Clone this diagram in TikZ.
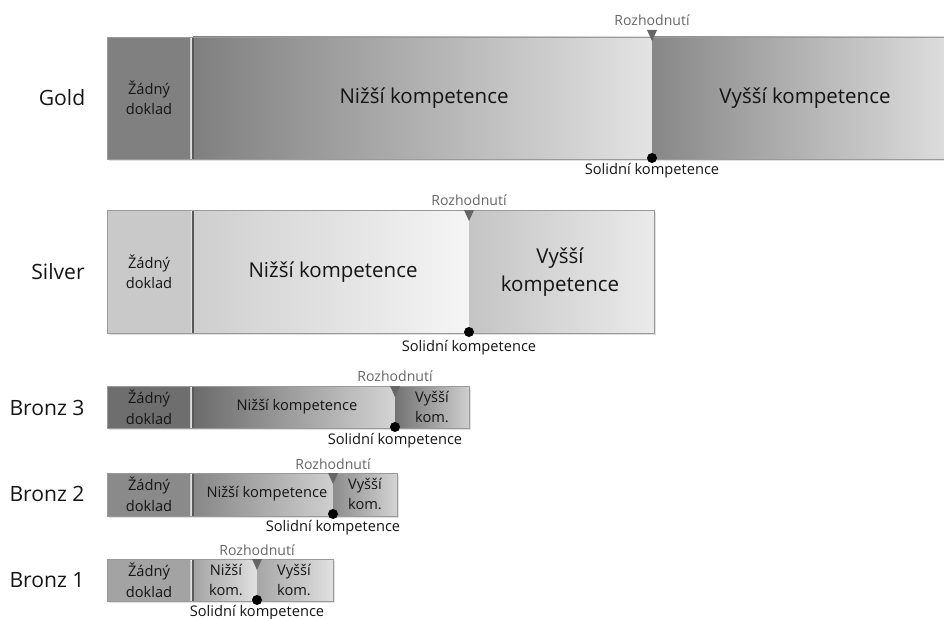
\documentclass[tikz,border=0pt]{standalone}
\usepackage{fontspec}
\setmainfont{Open Sans}
\usetikzlibrary{calc}

\definecolor{inkgrey}{HTML}{151515}
\definecolor{decgrey}{HTML}{666666}
\definecolor{framegrey}{HTML}{9A9A9A}

\begin{document}
\begin{tikzpicture}[x=0.03cm, y=-0.03cm,
	level/.style={font=\fontsize{18}{20}\selectfont, text=inkgrey},
	big/.style={font=\fontsize{17.5}{23.5}\selectfont, text=inkgrey, align=center},
	small/.style={font=\fontsize{12.5}{17.5}\selectfont, text=inkgrey, align=center},
	decision/.style={font=\fontsize{12}{14}\selectfont, text=decgrey},
	solidlbl/.style={font=\fontsize{12.5}{14}\selectfont, text=inkgrey},
	frame/.style={draw=framegrey, line width=0.7pt},
	shadowbox/.style={fill=black!12},
	seplight/.style={draw=black!20, line width=1.5pt},
	sepdark/.style={draw=black!65, line width=1.2pt},
	tipmark/.style={fill=decgrey},
	]
	\useasboundingbox (0,0) rectangle (944,619);

	% Gold
	\fill[shadowbox] (109,39) rectangle (950,161);
	\fill[black!50] (107,37) rectangle (191,159);
	\shade[left color=black!50, right color=black!11] (193,37) rectangle (652,159);
	\shade[left color=black!47, right color=black!13] (652,37) rectangle (950,159);
	\draw[seplight] (190.5,37) -- (190.5,159);
	\draw[sepdark] (193,37) -- (193,159);
	\draw[frame] (107,37) rectangle (950,159);
	\node[level] (gold) at (62,98) {Gold};
	\node[small] (gold0) at (149,98) {Žádný\\doklad};
	\node[big] (gold1) at (424,98) {Nižší kompetence};
	\node[big] (gold2) at (805,98) {Vyšší kompetence};
	\node[decision] (golddec) at (652,20) {Rozhodnutí};
	\fill[tipmark] (647,30) -- (657,30) -- (652,41) -- cycle;
	\fill (652,158) circle (5);
	\node[solidlbl] (goldsolid) at (652,171) {Solidní kompetence};

	% Silver
	\fill[shadowbox] (109,212) rectangle (656,335);
	\fill[black!21] (107,210) rectangle (191,333);
	\shade[left color=black!19, right color=black!4] (193,210) rectangle (469,333);
	\shade[left color=black!23, right color=black!8] (469,210) rectangle (654,333);
	\draw[seplight] (190.5,210) -- (190.5,333);
	\draw[sepdark] (193,210) -- (193,333);
	\draw[frame] (107,210) rectangle (654,333);
	\node[level] (silver) at (58,272) {Silver};
	\node[small] (silver0) at (149,272) {Žádný\\doklad};
	\node[big] (silver1) at (333,272) {Nižší kompetence};
	\node[big] (silver2) at (560,272) {Vyšší\\kompetence};
	\node[decision] (silverdec) at (469,200) {Rozhodnutí};
	\fill[tipmark] (464,210) -- (474,210) -- (469,221) -- cycle;
	\fill (469,332) circle (5);
	\node[solidlbl] (silversolid) at (469,348) {Solidní kompetence};

	% Bronz 3
	\fill[shadowbox] (109,388) rectangle (471,430);
	\fill[black!57] (107,386) rectangle (191,428);
	\shade[left color=black!58, right color=black!17] (193,386) rectangle (395,428);
	\shade[left color=black!55, right color=black!19] (395,386) rectangle (469,428);
	\draw[seplight] (190.5,386) -- (190.5,428);
	\draw[sepdark] (193,386) -- (193,428);
	\draw[frame] (107,386) rectangle (469,428);
	\node[level] (bronze3) at (47,408) {Bronz 3};
	\node[small] (bronze30) at (149,407) {Žádný\\doklad};
	\node[small] (bronze31) at (297,407) {Nižší kompetence};
	\node[small] (bronze32) at (432,407) {Vyšší\\kom.};
	\node[decision] (bronze3dec) at (395,376) {Rozhodnutí};
	\fill[tipmark] (390,386) -- (400,386) -- (395,397) -- cycle;
	\fill (395,427) circle (5);
	\node[solidlbl] (bronze3solid) at (395,441) {Solidní kompetence};

	% Bronz 2
	\fill[shadowbox] (109,475) rectangle (399,518);
	\fill[black!46] (107,473) rectangle (191,516);
	\shade[left color=black!47, right color=black!19] (193,473) rectangle (333,516);
	\shade[left color=black!45, right color=black!17] (333,473) rectangle (397,516);
	\draw[seplight] (190.5,473) -- (190.5,516);
	\draw[sepdark] (193,473) -- (193,516);
	\draw[frame] (107,473) rectangle (397,516);
	\node[level] (bronze2) at (47,494) {Bronz 2};
	\node[small] (bronze20) at (149,494) {Žádný\\doklad};
	\node[small] (bronze21) at (267,494) {Nižší kompetence};
	\node[small] (bronze22) at (365,494) {Vyšší\\kom.};
	\node[decision] (bronze2dec) at (333,464) {Rozhodnutí};
	\fill[tipmark] (328,473) -- (338,473) -- (333,484) -- cycle;
	\fill (333,514) circle (5);
	\node[solidlbl] (bronze2solid) at (333,528) {Solidní kompetence};

	% Bronz 1
	\fill[shadowbox] (109,561) rectangle (335,603);
	\fill[black!36] (107,559) rectangle (191,601);
	\shade[left color=black!36, right color=black!12] (193,559) rectangle (257,601);
	\shade[left color=black!35, right color=black!12] (257,559) rectangle (333,601);
	\draw[seplight] (190.5,559) -- (190.5,601);
	\draw[sepdark] (193,559) -- (193,601);
	\draw[frame] (107,559) rectangle (333,601);
	\node[level] (bronze1) at (47,580) {Bronz 1};
	\node[small] (bronze10) at (149,580) {Žádný\\doklad};
	\node[small] (bronze11) at (226,580) {Nižší\\kom.};
	\node[small] (bronze12) at (294,580) {Vyšší\\kom.};
	\node[decision] (bronze1dec) at (257,550) {Rozhodnutí};
	\fill[tipmark] (252,559) -- (262,559) -- (257,570) -- cycle;
	\fill (257,600) circle (5);
	\node[solidlbl] (bronze1solid) at (257,613) {Solidní kompetence};
\end{tikzpicture}
\end{document}
